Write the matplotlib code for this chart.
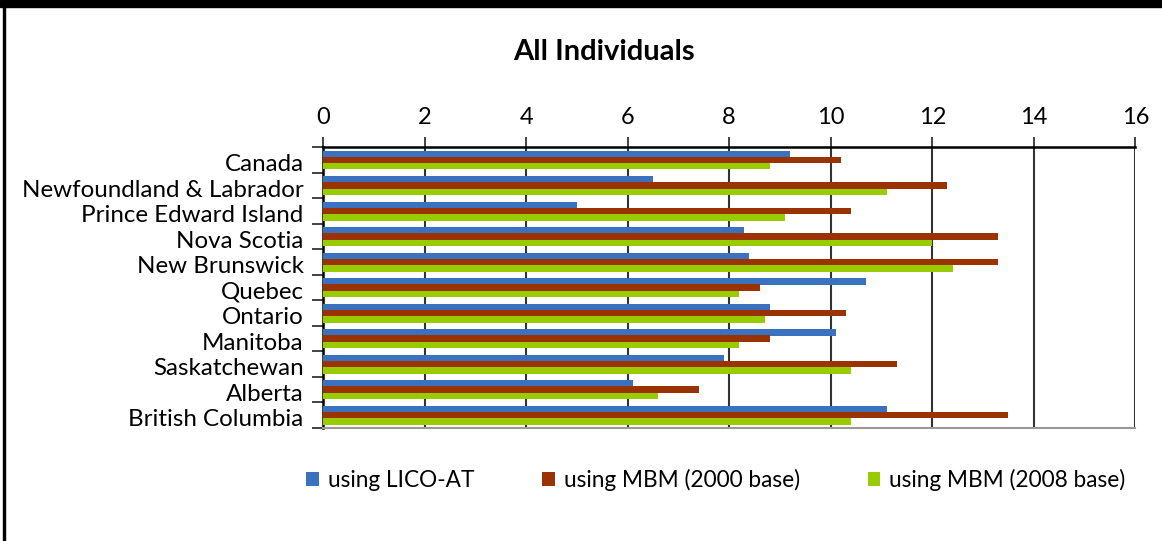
import numpy as np
from matplotlib import pyplot as plt
from matplotlib.patches import Rectangle
from matplotlib.transforms import ScaledTranslation

plt.rcParams['font.family'] = ['Lato', 'DejaVu Sans']

regions = ['Canada', 'Newfoundland & Labrador', 'Prince Edward Island', 'Nova Scotia',
           'New Brunswick', 'Quebec', 'Ontario', 'Manitoba', 'Saskatchewan', 'Alberta',
           'British Columbia']
lico_at = [9.2, 6.5, 5.0, 8.3, 8.4, 10.7, 8.8, 10.1, 7.9, 6.1, 11.1]
mbm_2000 = [10.2, 12.3, 10.4, 13.3, 13.3, 8.6, 10.3, 8.8, 11.3, 7.4, 13.5]
mbm_2008 = [8.8, 11.1, 9.1, 12.0, 12.4, 8.2, 8.7, 8.2, 10.4, 6.6, 10.4]
series_names = ['using LICO-AT', 'using MBM (2000 base)', 'using MBM (2008 base)']
colors = ['#3a72c0', '#9a3300', '#99cc00']

fig = plt.figure(figsize=(11.62, 5.41), dpi=100)
ax = fig.add_axes([0.278, 0.209, 0.699, 0.519])

y = np.arange(len(regions))
h = 0.25
for off, vals, c, name in zip([-0.24, 0.0, 0.25], [lico_at, mbm_2000, mbm_2008], colors, series_names):
    ax.barh(y + off, vals, height=h, color=c, label=name, zorder=3)

ax.set_xlim(0, 16)
ax.set_ylim(len(regions) - 0.5, -0.5)
ax.set_xticks(range(0, 17, 2))
ax.xaxis.tick_top()
ax.tick_params(axis='x', which='major', length=7, width=1.2, color='#222222',
               labelsize=17, pad=7)
ax.grid(axis='x', color='#333333', linewidth=1.5, zorder=0)

ax.set_yticks(y)
ax.set_yticklabels(regions, fontsize=17.4)
ax.set_yticks(np.arange(-0.5, len(regions), 1.0), minor=True)
ax.tick_params(axis='y', which='major', length=0, pad=14)
ax.tick_params(axis='y', which='minor', length=8, width=1.2, color='#222222')
# labels sit a little low in the original
for lab in ax.get_yticklabels():
    lab.set_transform(lab.get_transform() + ScaledTranslation(0, -2 / 72, fig.dpi_scale_trans))

for s in ['top', 'left']:
    ax.spines[s].set_color('black')
    ax.spines[s].set_linewidth(1.8)
ax.spines['bottom'].set_color('#999999')
ax.spines['bottom'].set_linewidth(1.5)
ax.spines['right'].set_visible(False)

fig.text(0.52, 0.903, 'All Individuals', fontsize=21, fontweight='bold',
         ha='center', va='center')

fig.legend(loc='center', bbox_to_anchor=(0.616, 0.113), ncol=3, frameon=False,
           fontsize=16.3, handlelength=0.55, handleheight=0.55, handletextpad=0.4,
           columnspacing=3.0)

# frame of the original picture
fig.patches.append(Rectangle((0, 0.987), 1, 0.013, transform=fig.transFigure,
                             color='black', zorder=10))
fig.patches.append(Rectangle((0.0026, 0), 0.0018, 1, transform=fig.transFigure,
                             color='black', zorder=10))

plt.savefig('out.png', dpi=100)
